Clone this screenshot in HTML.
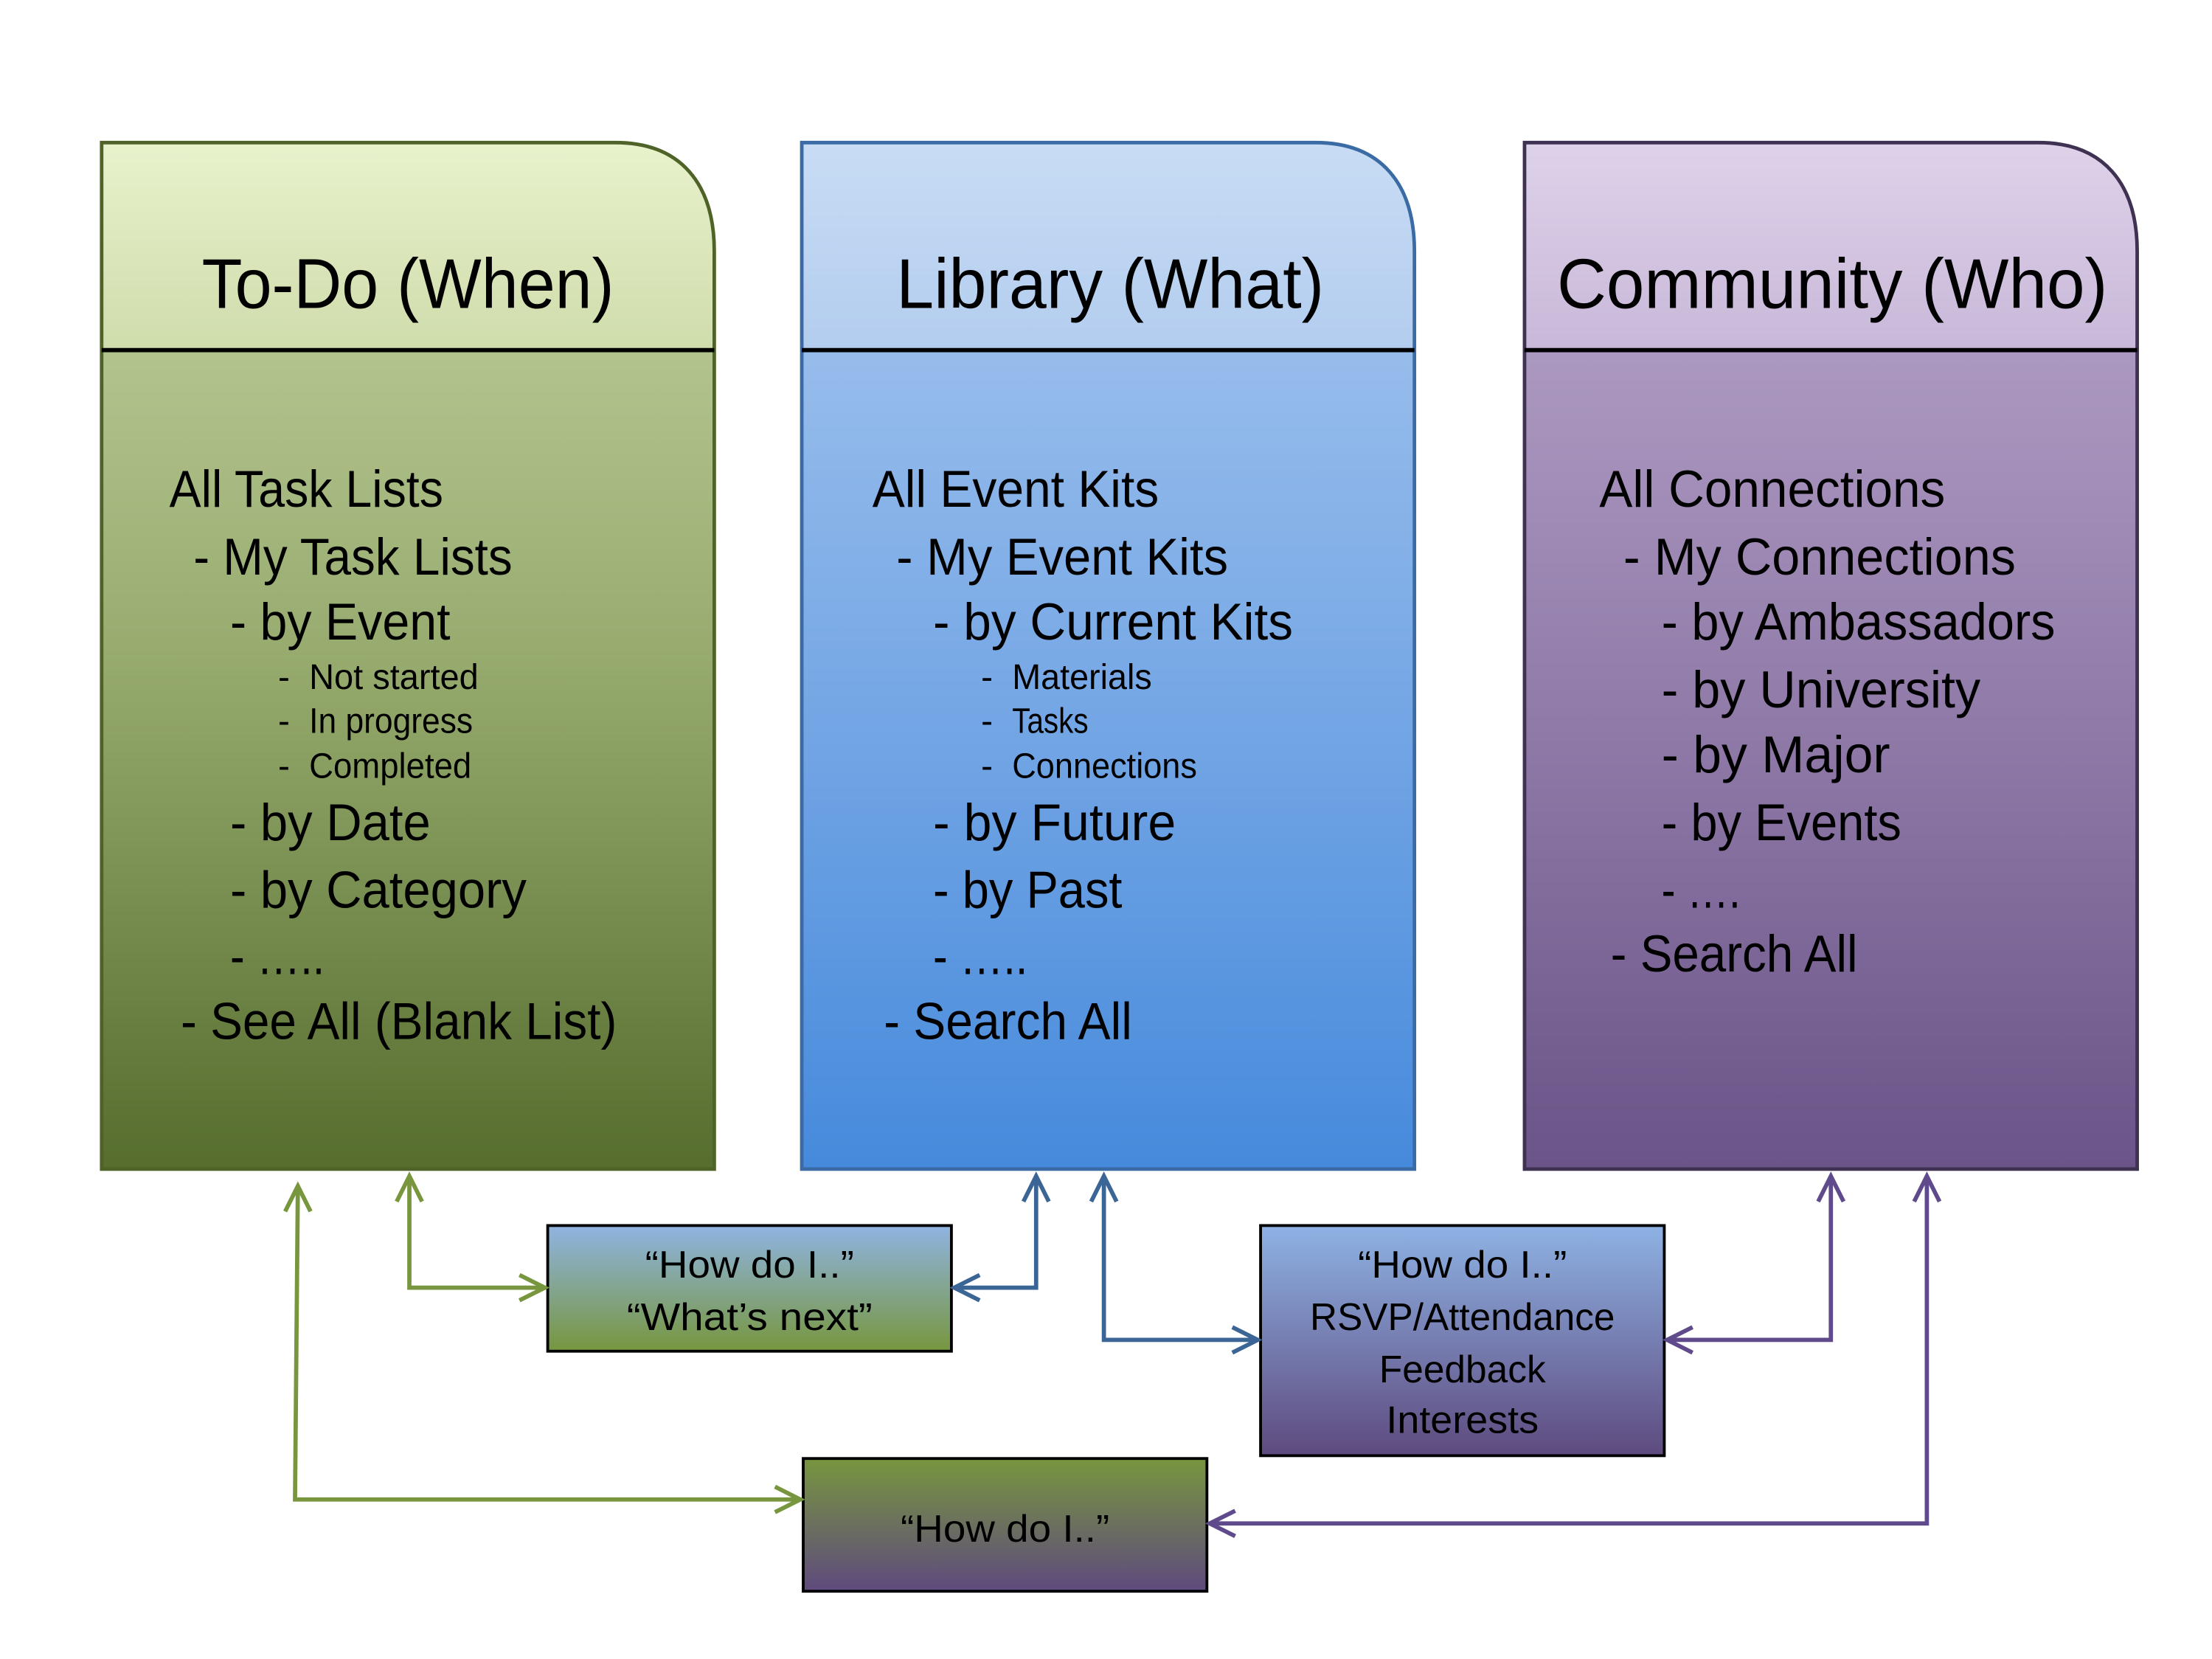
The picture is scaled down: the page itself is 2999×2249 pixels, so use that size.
<!DOCTYPE html>
<html><head><meta charset="utf-8"><style>html,body{margin:0;padding:0;background:#fff}svg{display:block}</style></head><body>
<svg width="2999" height="2249" viewBox="0 0 1567 1175" preserveAspectRatio="none" xmlns="http://www.w3.org/2000/svg" font-family="Liberation Sans, sans-serif">
<defs>
<linearGradient id="gh" x1="0" y1="0" x2="0" y2="1"><stop offset="0" stop-color="#e8f2cc"/><stop offset="1" stop-color="#cfdcab"/></linearGradient>
<linearGradient id="gb" x1="0" y1="0" x2="0" y2="1"><stop offset="0" stop-color="#c5d5a3"/><stop offset="0.5" stop-color="#97ab6f"/><stop offset="1" stop-color="#566d2e"/></linearGradient>
<linearGradient id="bh" x1="0" y1="0" x2="0" y2="1"><stop offset="0" stop-color="#c8dcf4"/><stop offset="1" stop-color="#b3cdef"/></linearGradient>
<linearGradient id="bb" x1="0" y1="0" x2="0" y2="1"><stop offset="0" stop-color="#aac9ef"/><stop offset="0.5" stop-color="#7aaae6"/><stop offset="1" stop-color="#468adc"/></linearGradient>
<linearGradient id="ph" x1="0" y1="0" x2="0" y2="1"><stop offset="0" stop-color="#ded2ea"/><stop offset="1" stop-color="#c9b8d9"/></linearGradient>
<linearGradient id="pb" x1="0" y1="0" x2="0" y2="1"><stop offset="0" stop-color="#bba9cd"/><stop offset="0.5" stop-color="#9580ad"/><stop offset="1" stop-color="#6a5488"/></linearGradient>
<linearGradient id="s1" x1="0" y1="0" x2="0" y2="1"><stop offset="0" stop-color="#8fb4e2"/><stop offset="1" stop-color="#77963e"/></linearGradient>
<linearGradient id="s2" x1="0" y1="0" x2="0" y2="1"><stop offset="0" stop-color="#8eb2e4"/><stop offset="1" stop-color="#5e4a7e"/></linearGradient>
<linearGradient id="s3" x1="0" y1="0" x2="0" y2="1"><stop offset="0" stop-color="#77963e"/><stop offset="1" stop-color="#5f4a7e"/></linearGradient>
</defs>

<path d="M72,101 H436 C482,101 506,130 506,178 V828 H72 Z" fill="url(#gb)"/>
<path d="M72,101 H436 C482,101 506,130 506,178 V248 H72 Z" fill="url(#gh)"/>
<path d="M72,101 H436 C482,101 506,130 506,178 V828 H72 Z" fill="none" stroke="#4f6228" stroke-width="2.5"/>
<line x1="72" y1="248" x2="506" y2="248" stroke="#000" stroke-width="3"/>

<path d="M568,101 H932 C978,101 1002,130 1002,178 V828 H568 Z" fill="url(#bb)"/>
<path d="M568,101 H932 C978,101 1002,130 1002,178 V248 H568 Z" fill="url(#bh)"/>
<path d="M568,101 H932 C978,101 1002,130 1002,178 V828 H568 Z" fill="none" stroke="#3a6ba5" stroke-width="2.5"/>
<line x1="568" y1="248" x2="1002" y2="248" stroke="#000" stroke-width="3"/>

<path d="M1080,101 H1444 C1490,101 1514,130 1514,178 V828 H1080 Z" fill="url(#pb)"/>
<path d="M1080,101 H1444 C1490,101 1514,130 1514,178 V248 H1080 Z" fill="url(#ph)"/>
<path d="M1080,101 H1444 C1490,101 1514,130 1514,178 V828 H1080 Z" fill="none" stroke="#3f3151" stroke-width="2.5"/>
<line x1="1080" y1="248" x2="1514" y2="248" stroke="#000" stroke-width="3"/>

<g fill="#000" font-size="50">
<text x="143" y="218" textLength="292" lengthAdjust="spacingAndGlyphs">To-Do (When)</text>
<text x="635" y="218" textLength="303" lengthAdjust="spacingAndGlyphs">Library (What)</text>
<text x="1103" y="218" textLength="390" lengthAdjust="spacingAndGlyphs">Community (Who)</text>
</g>

<g fill="#000" font-size="37">
<text x="120" y="359" textLength="194" lengthAdjust="spacingAndGlyphs">All Task Lists</text>
<text x="137" y="407" textLength="226" lengthAdjust="spacingAndGlyphs">- My Task Lists</text>
<text x="163" y="453" textLength="156" lengthAdjust="spacingAndGlyphs">- by Event</text>
<text x="163" y="595" textLength="142" lengthAdjust="spacingAndGlyphs">- by Date</text>
<text x="163" y="643" textLength="210" lengthAdjust="spacingAndGlyphs">- by Category</text>
<text x="163" y="690" textLength="67" lengthAdjust="spacingAndGlyphs">- …..</text>
<text x="128" y="736" textLength="309" lengthAdjust="spacingAndGlyphs">- See All (Blank List)</text>

<text x="618" y="359" textLength="203" lengthAdjust="spacingAndGlyphs">All Event Kits</text>
<text x="635" y="407" textLength="235" lengthAdjust="spacingAndGlyphs">- My Event Kits</text>
<text x="661" y="453" textLength="255" lengthAdjust="spacingAndGlyphs">- by Current Kits</text>
<text x="661" y="595" textLength="172" lengthAdjust="spacingAndGlyphs">- by Future</text>
<text x="661" y="643" textLength="134" lengthAdjust="spacingAndGlyphs">- by Past</text>
<text x="661" y="690" textLength="67" lengthAdjust="spacingAndGlyphs">- …..</text>
<text x="626" y="736" textLength="176" lengthAdjust="spacingAndGlyphs">- Search All</text>

<text x="1133" y="359" textLength="245" lengthAdjust="spacingAndGlyphs">All Connections</text>
<text x="1150" y="407" textLength="278" lengthAdjust="spacingAndGlyphs">- My Connections</text>
<text x="1177" y="453" textLength="279" lengthAdjust="spacingAndGlyphs">- by Ambassadors</text>
<text x="1177" y="501" textLength="226" lengthAdjust="spacingAndGlyphs">- by University</text>
<text x="1177" y="547" textLength="162" lengthAdjust="spacingAndGlyphs">- by Major</text>
<text x="1177" y="595" textLength="170" lengthAdjust="spacingAndGlyphs">- by Events</text>
<text x="1177" y="643" textLength="56" lengthAdjust="spacingAndGlyphs">- ….</text>
<text x="1141" y="688" textLength="175" lengthAdjust="spacingAndGlyphs">- Search All</text>
</g>

<g fill="#000" font-size="25">
<text x="197" y="488">-</text><text x="219" y="488" textLength="120" lengthAdjust="spacingAndGlyphs">Not started</text>
<text x="197" y="519">-</text><text x="219" y="519" textLength="116" lengthAdjust="spacingAndGlyphs">In progress</text>
<text x="197" y="551">-</text><text x="219" y="551" textLength="115" lengthAdjust="spacingAndGlyphs">Completed</text>
<text x="695" y="488">-</text><text x="717" y="488" textLength="99" lengthAdjust="spacingAndGlyphs">Materials</text>
<text x="695" y="519">-</text><text x="717" y="519" textLength="54" lengthAdjust="spacingAndGlyphs">Tasks</text>
<text x="695" y="551">-</text><text x="717" y="551" textLength="131" lengthAdjust="spacingAndGlyphs">Connections</text>
</g>

<rect x="388" y="868" width="286" height="89" fill="url(#s1)" stroke="#000" stroke-width="2"/>
<rect x="893" y="868" width="286" height="163" fill="url(#s2)" stroke="#000" stroke-width="2"/>
<rect x="569" y="1033" width="286" height="94" fill="url(#s3)" stroke="#000" stroke-width="2"/>
<g fill="#000" font-size="27" text-anchor="middle">
<text x="531" y="905" textLength="148" lengthAdjust="spacingAndGlyphs">“How do I..”</text>
<text x="531" y="942" textLength="174" lengthAdjust="spacingAndGlyphs">“What’s next”</text>
<text x="1036" y="905" textLength="148" lengthAdjust="spacingAndGlyphs">“How do I..”</text>
<text x="1036" y="942" textLength="216" lengthAdjust="spacingAndGlyphs">RSVP/Attendance</text>
<text x="1036" y="979" textLength="118" lengthAdjust="spacingAndGlyphs">Feedback</text>
<text x="1036" y="1015" textLength="108" lengthAdjust="spacingAndGlyphs">Interests</text>
<text x="712" y="1092" textLength="148" lengthAdjust="spacingAndGlyphs">“How do I..”</text>
</g>

<g fill="none" stroke-width="3" stroke-linejoin="miter">
<g stroke="#77963e">
<polyline points="290,833 290,912 385,912"/><polyline points="281,851 290,833 299,851"/><polyline points="368,903 386,912 368,921"/>
<polyline points="211,840 209,1062 566,1062"/><polyline points="202,858 211,840 220,858"/><polyline points="549,1053 567,1062 549,1071"/>
</g>
<g stroke="#3a6595">
<polyline points="734,833 734,912 677,912"/><polyline points="725,851 734,833 743,851"/><polyline points="694,903 676,912 694,921"/>
<polyline points="782,833 782,949 890,949"/><polyline points="773,851 782,833 791,851"/><polyline points="873,940 891,949 873,958"/>
</g>
<g stroke="#5f4b8b">
<polyline points="1297,833 1297,949 1182,949"/><polyline points="1288,851 1297,833 1306,851"/><polyline points="1199,940 1181,949 1199,958"/>
<polyline points="1365,833 1365,1079 858,1079"/><polyline points="1356,851 1365,833 1374,851"/><polyline points="875,1070 857,1079 875,1088"/>
</g>
</g>
</svg>
</body></html>
